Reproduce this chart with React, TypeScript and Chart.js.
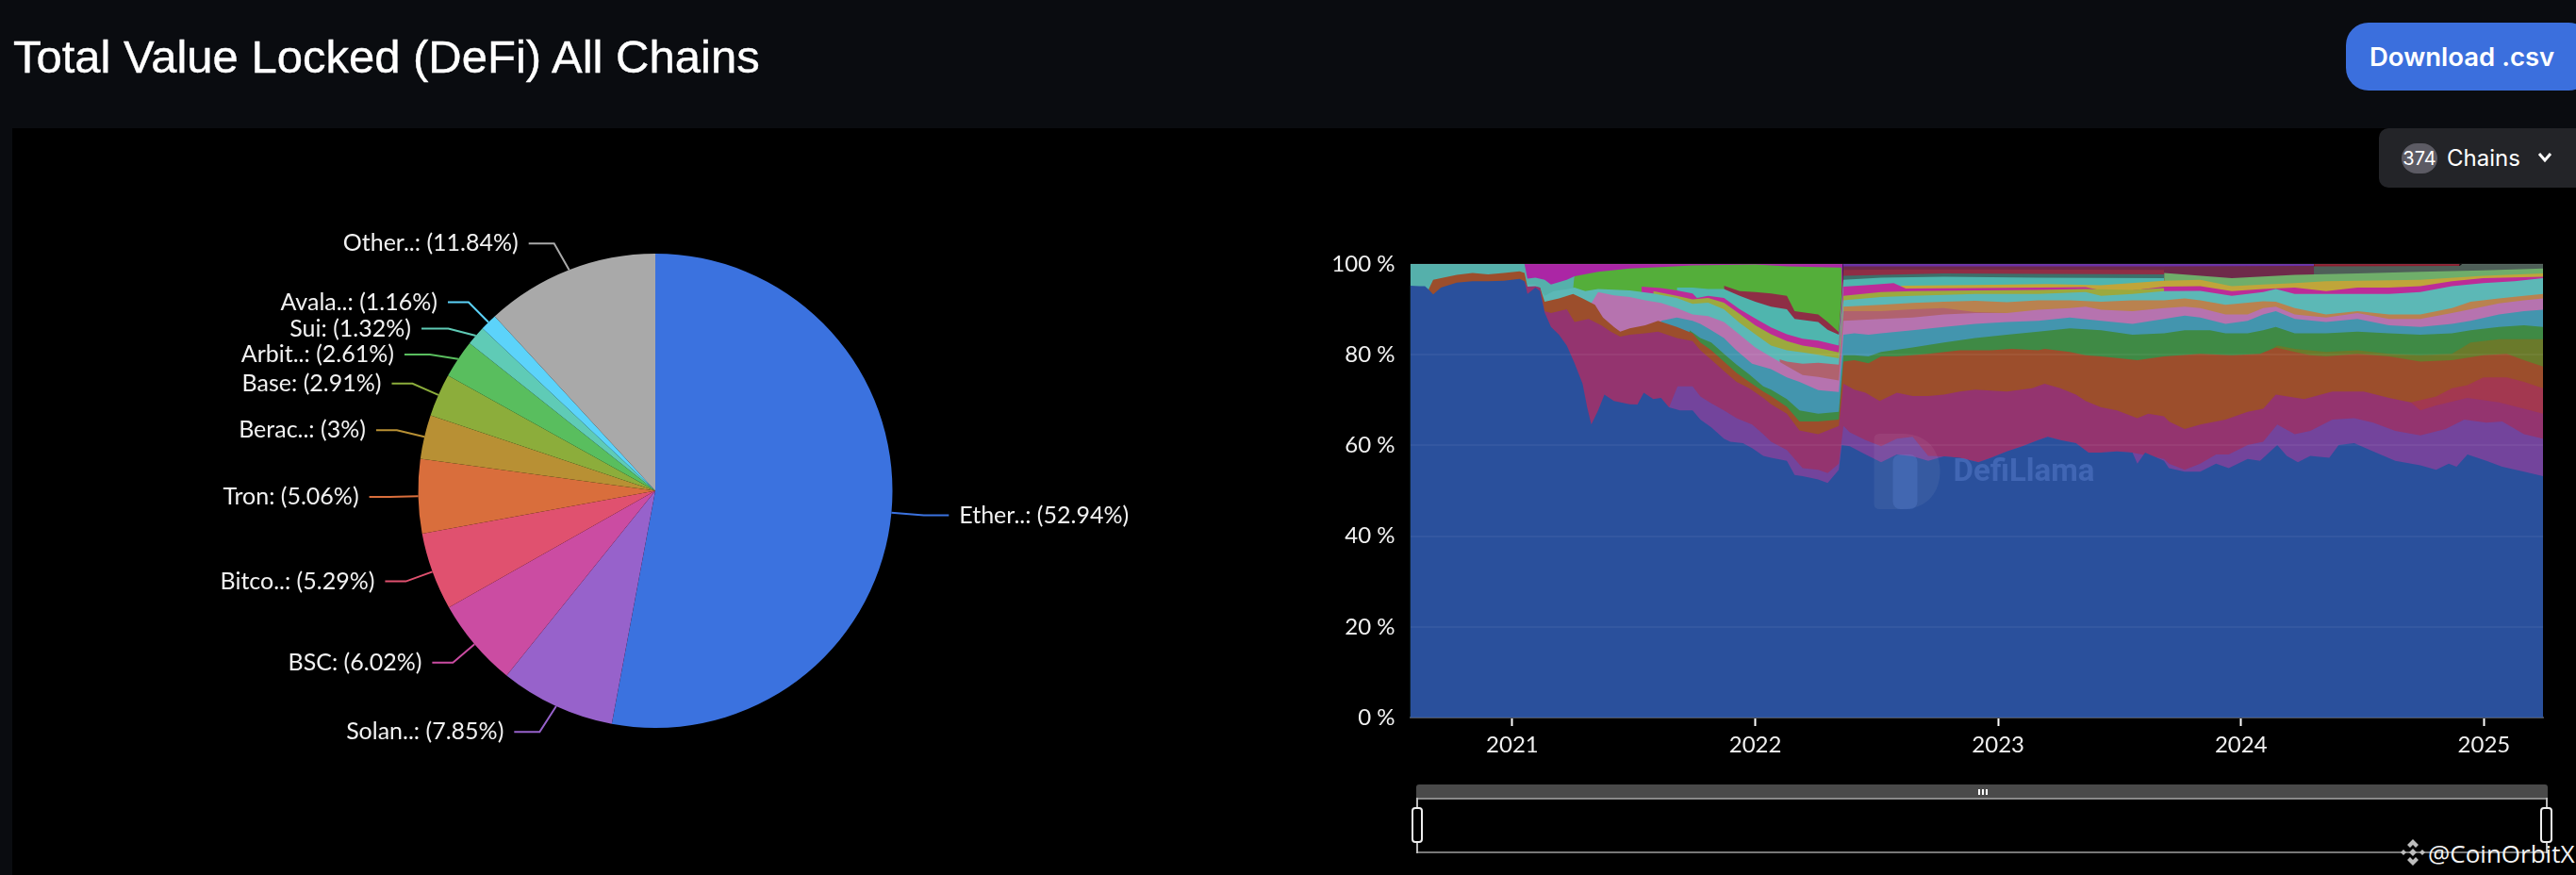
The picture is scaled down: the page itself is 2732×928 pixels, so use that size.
import React, { useEffect, useRef } from "react";
import { Chart, registerables } from "chart.js";

Chart.register(...registerables);

type P = [number, number];

/* ---------- pie ---------- */
const chainLabels = ["Ether..", "Solan..", "BSC", "Bitco..", "Tron", "Berac..", "Base", "Arbit..", "Sui", "Avala..", "Other.."];
const chainShares = [52.94, 7.85, 6.02, 5.29, 5.06, 3, 2.91, 2.61, 1.32, 1.16, 11.84];
const chainColors = ["#3B72DF", "#9762CB", "#CB4CA2", "#E0516F", "#D96E3C", "#B89034", "#8CAD3B", "#59BE5E", "#5FCBB6", "#5CD3FA", "#A9A9A9"];
const labelShifts: P[] = [[9, 0], [-10, 0], [0, 0], [0, 0], [0, 0], [0, 0], [0, 0], [-10, 12], [-13, 12], [0, 0], [-10, 0]];

/* ---------- area: the top edge (in %) of each band, [year, %] ---------- */
const ethereum: P[] = [[2020.579, 95.2], [2020.616, 95.1], [2020.64, 95.1], [2020.655, 94.4], [2020.674, 93.3], [2020.706, 94.8], [2020.771, 95.9], [2020.836, 96.2], [2020.9, 96.2], [2020.965, 96.3], [2021.03, 96.7], [2021.05, 96.2], [2021.062, 93.4], [2021.095, 94.8], [2021.114, 94], [2021.133, 89.3], [2021.159, 86.1], [2021.192, 84.4], [2021.224, 82], [2021.256, 78.1], [2021.289, 73.6], [2021.308, 68.4], [2021.325, 64.6], [2021.353, 67.7], [2021.379, 71.2], [2021.418, 69.8], [2021.483, 69.1], [2021.515, 69], [2021.541, 71.6], [2021.58, 70.2], [2021.612, 70.5], [2021.645, 68.4], [2021.69, 67.7], [2021.742, 67.7], [2021.774, 65.7], [2021.819, 64], [2021.871, 61.5], [2021.897, 60.8], [2021.949, 60.5], [2021.987, 59.4], [2022.033, 57.7], [2022.065, 57.3], [2022.13, 56.6], [2022.162, 53.5], [2022.195, 53.2], [2022.259, 52.5], [2022.298, 51.7], [2022.344, 54.6], [2022.356, 60.1], [2022.389, 59.8], [2022.454, 58], [2022.518, 56.3], [2022.583, 58], [2022.648, 57.6], [2022.712, 56.6], [2022.777, 57.6], [2022.842, 57.3], [2022.919, 56.3], [2022.971, 57.3], [2023.036, 58.7], [2023.1, 59.8], [2023.165, 61.2], [2023.204, 61.9], [2023.256, 61.2], [2023.32, 60.5], [2023.372, 58.4], [2023.424, 58.4], [2023.489, 58.7], [2023.553, 58.4], [2023.573, 56], [2023.605, 58.4], [2023.683, 56.6], [2023.703, 55], [2023.768, 54.2], [2023.832, 54.2], [2023.897, 56], [2023.949, 55], [2024.027, 57], [2024.078, 56.6], [2024.149, 60.1], [2024.188, 57.7], [2024.234, 56.3], [2024.285, 57.7], [2024.363, 57.3], [2024.402, 60.1], [2024.466, 60.5], [2024.544, 58.7], [2024.635, 56.6], [2024.738, 55.6], [2024.803, 54.6], [2024.855, 56], [2024.887, 55.3], [2024.932, 58], [2025.01, 56.6], [2025.075, 55.3], [2025.165, 54.2], [2025.243, 53.2]];
const solana: P[] = [[2021.645, 68.4], [2021.68, 73], [2021.742, 73], [2021.774, 70.8], [2021.819, 69.3], [2021.871, 67.7], [2021.923, 66], [2021.987, 64.6], [2022.033, 62.5], [2022.065, 60.8], [2022.13, 59], [2022.195, 55], [2022.259, 54.6], [2022.298, 53.9], [2022.344, 56], [2022.363, 64.3], [2022.389, 62.9], [2022.454, 61.2], [2022.518, 59.8], [2022.583, 61.5], [2022.648, 61.9], [2022.712, 57.7], [2022.777, 57.6], [2022.842, 57.3], [2022.919, 56.3], [2022.971, 57.3], [2023.036, 58.7], [2023.1, 59.8], [2023.165, 61.2], [2023.204, 61.9], [2023.256, 61.2], [2023.32, 60.5], [2023.372, 58.4], [2023.424, 58.4], [2023.489, 58.7], [2023.553, 58.4], [2023.683, 57], [2023.703, 56], [2023.768, 54.6], [2023.832, 56], [2023.897, 58], [2023.949, 58], [2024.027, 60.1], [2024.091, 60.8], [2024.149, 64.6], [2024.221, 62.5], [2024.285, 63.2], [2024.376, 65.7], [2024.466, 66], [2024.544, 65], [2024.635, 63.2], [2024.738, 62.2], [2024.842, 63.6], [2024.919, 65.7], [2025.01, 65], [2025.075, 65.3], [2025.165, 62.5], [2025.243, 61.5]];
const bsc: P[] = [[2021.05, 96.2], [2021.062, 95], [2021.095, 95.1], [2021.114, 94.8], [2021.133, 89.6], [2021.159, 89.2], [2021.224, 90], [2021.256, 87.2], [2021.314, 87.9], [2021.366, 86.5], [2021.405, 85.1], [2021.444, 84], [2021.483, 84.4], [2021.547, 84.7], [2021.6, 85.1], [2021.677, 83.7], [2021.742, 83], [2021.774, 81], [2021.819, 78.9], [2021.871, 76.4], [2021.923, 74], [2021.975, 72.6], [2022.033, 70.5], [2022.065, 69.1], [2022.13, 67], [2022.182, 63.3], [2022.259, 62.5], [2022.344, 64.3], [2022.363, 73.6], [2022.408, 72.3], [2022.454, 71.6], [2022.512, 69.8], [2022.583, 71.6], [2022.648, 70.9], [2022.712, 70.9], [2022.777, 71.2], [2022.842, 71.9], [2022.906, 72.3], [2023.036, 71.9], [2023.139, 72.6], [2023.191, 73.6], [2023.256, 72.6], [2023.32, 71.2], [2023.36, 69.8], [2023.424, 68.4], [2023.489, 67.7], [2023.573, 66], [2023.618, 67], [2023.683, 66.4], [2023.703, 65.3], [2023.768, 63.6], [2023.832, 64.6], [2023.936, 65.7], [2024.027, 67.4], [2024.091, 68.1], [2024.143, 71.2], [2024.26, 70.2], [2024.376, 71.9], [2024.505, 71.9], [2024.609, 70.5], [2024.699, 69.5], [2024.738, 67.7], [2024.803, 68.8], [2024.932, 70.5], [2025.062, 69.5], [2025.165, 68.1], [2025.243, 67]];
const bitcoin: P[] = [[2024.699, 69.5], [2024.803, 70.8], [2024.868, 72.6], [2024.932, 73.3], [2024.997, 75], [2025.094, 75], [2025.165, 74], [2025.243, 72.6]];
const tron: P[] = [[2020.655, 94.4], [2020.674, 96.5], [2020.706, 96.9], [2020.771, 97.6], [2020.836, 98], [2020.9, 97.7], [2020.965, 98], [2021.03, 98.4], [2021.05, 98], [2021.062, 95], [2021.114, 94.8], [2021.133, 91.7], [2021.192, 92.4], [2021.25, 93.4], [2021.289, 92.4], [2021.34, 91], [2021.373, 88.2], [2021.418, 86.1], [2021.444, 85.1], [2021.483, 85.8], [2021.547, 86.5], [2021.6, 87.5], [2021.677, 86.1], [2021.742, 84.7], [2021.774, 82.7], [2021.819, 81], [2021.871, 78.5], [2021.923, 76], [2021.975, 74], [2022.033, 71.9], [2022.065, 70.9], [2022.13, 68.5], [2022.182, 65.3], [2022.259, 65.3], [2022.344, 65.7], [2022.363, 78.5], [2022.408, 78.8], [2022.466, 78.1], [2022.518, 79.6], [2022.583, 79.6], [2022.712, 80.2], [2022.842, 81], [2022.971, 81], [2023.055, 81.3], [2023.165, 81], [2023.191, 81.3], [2023.295, 80.6], [2023.36, 79.9], [2023.424, 79.6], [2023.573, 78.8], [2023.683, 79.6], [2023.832, 80.2], [2023.962, 79.9], [2024.078, 80.2], [2024.143, 81.6], [2024.221, 80.6], [2024.285, 79.9], [2024.35, 79.6], [2024.479, 80.2], [2024.609, 79.6], [2024.738, 78.5], [2024.868, 78.8], [2024.997, 79.9], [2025.094, 80.2], [2025.165, 78.8], [2025.243, 77.4]];
const olive: P[] = [[2024.1, 80.2], [2024.149, 82], [2024.221, 81.3], [2024.35, 80.6], [2024.479, 81], [2024.609, 80.2], [2024.738, 79.9], [2024.868, 80.2], [2024.945, 82.7], [2025.062, 83.4], [2025.165, 83.4], [2025.243, 83.4]];
const greenBand: P[] = [[2021.729, 85.4], [2021.774, 83.7], [2021.819, 82.7], [2021.871, 80.2], [2021.923, 77.8], [2021.975, 75.7], [2022.033, 73], [2022.065, 72.3], [2022.13, 70.2], [2022.182, 67.7], [2022.259, 67], [2022.344, 67.4], [2022.363, 79.9], [2022.408, 79.9], [2022.466, 79.6], [2022.518, 80.6], [2022.648, 81.6], [2022.777, 82.7], [2022.906, 83.7], [2023.036, 84.4], [2023.165, 85.1], [2023.295, 85.8], [2023.424, 85.4], [2023.553, 84.4], [2023.683, 84.7], [2023.768, 85.4], [2023.872, 85.4], [2023.936, 84.7], [2024.027, 84.7], [2024.091, 85.4], [2024.143, 86.1], [2024.221, 84.7], [2024.35, 84.7], [2024.479, 85.1], [2024.609, 84.7], [2024.738, 84.4], [2024.868, 84.7], [2024.945, 85.4], [2025.062, 86.1], [2025.165, 86.5], [2025.243, 86.1]];
const tealBlue: P[] = [[2021.612, 87.5], [2021.677, 88.2], [2021.742, 87.5], [2021.774, 86.8], [2021.819, 85.4], [2021.871, 83.7], [2021.923, 80.9], [2021.987, 78], [2022.065, 76.8], [2022.13, 75], [2022.182, 74], [2022.259, 72.2], [2022.344, 71.8], [2022.363, 84.4], [2022.408, 84.7], [2022.466, 84.4], [2022.518, 84.7], [2022.648, 85.4], [2022.777, 86.1], [2022.906, 86.8], [2023.036, 87.2], [2023.165, 87.5], [2023.295, 88.2], [2023.424, 87.5], [2023.553, 86.8], [2023.683, 87.9], [2023.768, 88.6], [2023.832, 88.2], [2023.936, 86.8], [2024.027, 87.5], [2024.091, 88.9], [2024.143, 89.6], [2024.221, 87.9], [2024.35, 87.2], [2024.479, 87.9], [2024.609, 86.5], [2024.738, 86.1], [2024.868, 86.8], [2024.945, 87.5], [2025.062, 88.9], [2025.165, 89.6], [2025.243, 89.9]];
const pink: P[] = [[2021.321, 91], [2021.353, 93.8], [2021.418, 93.1], [2021.483, 92.7], [2021.547, 92], [2021.612, 91.4], [2021.677, 90.3], [2021.742, 88.9], [2021.806, 88.5], [2021.871, 87.2], [2021.936, 84.4], [2022, 81.6], [2022.065, 79.5], [2022.13, 77.5], [2022.195, 75.5], [2022.259, 75.1], [2022.344, 74.3], [2022.363, 87.5], [2022.518, 87.9], [2022.648, 88.2], [2022.777, 88.9], [2022.906, 89.2], [2023.036, 89.2], [2023.165, 89.9], [2023.295, 90.3], [2023.36, 90.6], [2023.424, 89.9], [2023.553, 89.6], [2023.683, 90.3], [2023.768, 90.6], [2023.832, 90.3], [2023.936, 88.9], [2024.027, 88.9], [2024.091, 90.3], [2024.143, 90.6], [2024.221, 88.9], [2024.35, 88.2], [2024.479, 89.2], [2024.609, 87.9], [2024.738, 87.9], [2024.868, 89.2], [2024.945, 90], [2025.062, 91.3], [2025.165, 92], [2025.243, 92.4]];
const rose: P[] = [[2022.1, 79], [2022.13, 78.5], [2022.195, 78], [2022.259, 78.2], [2022.344, 77.8], [2022.363, 89.6], [2022.518, 89.6], [2022.648, 90], [2022.777, 90.3], [2022.906, 89.4], [2023.036, 89.2]];
const tan: P[] = [[2022.363, 90.6], [2022.518, 91], [2022.648, 91.4], [2022.777, 91.7], [2022.906, 91.9], [2023.036, 91.6], [2023.165, 92], [2023.295, 92], [2023.424, 91.7], [2023.553, 92], [2023.683, 92], [2023.768, 92.4], [2023.832, 92], [2023.936, 91], [2024.091, 91.8], [2024.143, 91.7], [2024.221, 90.3], [2024.35, 88.9], [2024.479, 89.6], [2024.609, 88.9], [2024.738, 88.9], [2024.868, 90.3], [2024.945, 91.7], [2025.062, 92.4], [2025.165, 93], [2025.243, 93.4]];
const lightTeal: P[] = [[2021.05, 96.2], [2021.062, 95.5], [2021.095, 95.5], [2021.133, 93], [2021.17, 94], [2021.23, 94.5], [2021.256, 94.8], [2021.3, 94], [2021.353, 94.5], [2021.483, 94.2], [2021.58, 93.5], [2021.677, 92.5], [2021.742, 91.2], [2021.806, 91.5], [2021.871, 90], [2021.936, 87], [2022, 84.5], [2022.065, 82], [2022.13, 81], [2022.195, 80.5], [2022.259, 80], [2022.344, 79.2], [2022.363, 92], [2022.518, 92.7], [2022.648, 93], [2022.777, 93.2], [2022.906, 93.4], [2023.165, 93.4], [2023.36, 93.8], [2023.424, 93], [2023.553, 93.4], [2023.683, 94], [2023.832, 94.1], [2023.962, 93], [2024.091, 93.8], [2024.143, 94.5], [2024.221, 93.4], [2024.35, 93.4], [2024.609, 93.4], [2024.738, 93.8], [2024.868, 95.1], [2024.997, 95.8], [2025.126, 96.2], [2025.243, 96.9]];
const yellowGreen: P[] = [[2021.58, 94], [2021.677, 93], [2021.742, 92.2], [2021.806, 92.5], [2021.871, 91.5], [2021.936, 89], [2022, 86.5], [2022.065, 84.5], [2022.13, 83], [2022.195, 82], [2022.259, 81.5], [2022.344, 80.5], [2022.363, 93], [2022.518, 93.8], [2022.648, 94], [2022.906, 94.2], [2023.165, 94.3], [2023.36, 94.5], [2023.553, 94.3], [2023.683, 94.7]];
const hotMagenta: P[] = [[2021.532, 95], [2021.612, 94.7], [2021.677, 94.2], [2021.742, 93.5], [2021.76, 92.5], [2021.806, 93], [2021.871, 92.5], [2021.936, 90], [2022, 88], [2022.065, 86], [2022.13, 84.5], [2022.195, 83.5], [2022.259, 83.1], [2022.344, 82], [2022.363, 95], [2022.454, 95.3], [2022.57, 95.8], [2022.62, 94.6], [2022.906, 94.7], [2023.165, 94.8], [2023.36, 94.9], [2023.424, 94.2], [2023.553, 94.2], [2023.683, 95], [2023.832, 95.1], [2023.962, 94], [2024.091, 94.5], [2024.221, 94.8], [2024.35, 94], [2024.479, 94.8], [2024.609, 94.8], [2024.738, 95.1], [2024.868, 96.2], [2024.997, 96.9], [2025.243, 97.2]];
const yellowBand: P[] = [[2022.6, 95.2], [2022.906, 95.4], [2023.2, 95.6], [2023.424, 95.3], [2023.683, 96.3], [2023.832, 96.5], [2023.962, 95.1], [2024.091, 95.5], [2024.221, 95.8], [2024.35, 96.2], [2024.738, 96.5], [2024.997, 97.4], [2025.243, 97.9]];
const teal: P[] = [[2021.677, 94.8], [2021.742, 94.8], [2021.806, 94.5], [2021.871, 94.5], [2021.936, 93], [2022, 91.7], [2022.065, 90.6], [2022.13, 90], [2022.162, 87.9], [2022.259, 87.2], [2022.298, 85.5], [2022.344, 84.4], [2022.363, 96.5], [2022.518, 97], [2022.777, 97.2], [2023.165, 97], [2023.683, 96.9]];
const darkTeal: P[] = [[2022.363, 97.4], [2022.777, 97.9], [2023.165, 97.8], [2023.683, 97.7]];
const stripes: P[] = [[2021.871, 95.2], [2021.936, 94], [2022, 93.8], [2022.065, 93.5], [2022.13, 93], [2022.162, 89.6], [2022.259, 88.9], [2022.298, 87.2], [2022.344, 85], [2022.363, 98.7], [2022.6, 98.8], [2023, 98.8], [2023.683, 98.7]];
const maroon: P[] = [[2022.363, 99.5], [2023, 99.5], [2023.683, 99.5], [2024.3, 99.6]];
const greenMix: P[] = [[2023.683, 98], [2023.962, 96.9], [2024.221, 97.6], [2024.479, 97.9], [2024.738, 98.3], [2024.997, 98.6], [2025.243, 99]];
const upperMix: P[] = [[2023.683, 99.2], [2024.3, 99.5], [2024.9, 99.6], [2024.91, 100], [2025.243, 100]];
const terra: P[] = [[2021.25, 95], [2021.256, 97.3], [2021.353, 98.3], [2021.483, 99], [2021.612, 99.3], [2021.742, 99.7], [2021.871, 99.8], [2022, 99.9], [2022.13, 99.5], [2022.344, 99.2], [2022.356, 99.2]];
const earlyTeal: P[] = [[2020.579, 100], [2021.05, 100], [2021.062, 96.8], [2021.095, 97], [2021.133, 96.5], [2021.159, 95.5], [2021.224, 96.5], [2021.256, 97.3]];
const magentaTop: P[] = [[2021.05, 100], [2022.36, 100]];
const violetTop: P[] = [[2022.36, 100], [2024.3, 100]];
const crimsonTop: P[] = [[2024.3, 100], [2024.9, 100]];

const bands: [P[], string][] = [
  [ethereum, "#2A509C"], [solana, "#73449C"], [bsc, "#94346F"], [bitcoin, "#A33850"], [tron, "#9C4E2C"],
  [olive, "#6A7A2B"], [greenBand, "#3F8A45"], [tealBlue, "#4395AE"], [pink, "#B673AF"], [rose, "#B0626E"],
  [tan, "#B9824F"], [lightTeal, "#5CB8B6"], [yellowGreen, "#9CA93E"], [hotMagenta, "#BC2C98"], [yellowBand, "#C0A53A"],
  [teal, "#4FB5AE"], [darkTeal, "#3D6F6A"], [stripes, "#8E2E45"], [greenMix, "#6FAE6A"], [maroon, "#6E2A4A"], [upperMix, "#4E5F58"], [terra, "#54AE3A"],
  [earlyTeal, "#55B0AB"], [magentaTop, "#AB26A5"], [violetTop, "#6A30A6"], [crimsonTop, "#8C1F30"],
];
const yearTicks = [2021, 2022, 2023, 2024, 2025];
const xMin = 2020.579;
const xMax = 2025.243;

const AXIS_FONT = "Lato";

const pieLabelsPlugin = {
  id: "pieLabels",
  afterDatasetsDraw(chart: any) {
    const { ctx } = chart;
    const arcs = chart.getDatasetMeta(0).data;
    ctx.save();
    ctx.font = `25px ${AXIS_FONT}`;
    ctx.textBaseline = "middle";
    arcs.forEach((arc: any, i: number) => {
      const mid = (arc.startAngle + arc.endAngle) / 2;
      const c = Math.cos(mid), s = Math.sin(mid);
      const r = arc.outerRadius;
      const sx = arc.x + r * c, sy = arc.y + r * s;
      const [dx, dy] = labelShifts[i];
      const ex = arc.x + (r + 30) * c + dx * 0.5, ey = arc.y + (r + 30) * s + dy;
      const right = c >= 0;
      const hx = ex + (right ? 1 : -1) * (22 + Math.abs(dx) * 0.5);
      ctx.strokeStyle = chainColors[i];
      ctx.lineWidth = 2;
      ctx.beginPath();
      ctx.moveTo(sx, sy);
      ctx.lineTo(ex, ey);
      ctx.lineTo(hx, ey);
      ctx.stroke();
      ctx.fillStyle = "#f2f2f2";
      ctx.textAlign = right ? "left" : "right";
      ctx.fillText(`${chainLabels[i]}: (${chainShares[i]}%)`, hx + (right ? 11 : -11), ey);
    });
    ctx.restore();
  },
};

const watermarkPlugin = {
  id: "watermark",
  afterDatasetsDraw(chart: any) {
    const { ctx, chartArea } = chart;
    const x = chartArea.left + 492, y = chartArea.top + 180;
    ctx.save();
    ctx.fillStyle = "rgba(255,255,255,0.06)";
    ctx.beginPath();
    ctx.moveTo(x + 6, y);
    ctx.lineTo(x + 30, y);
    ctx.bezierCurveTo(x + 60, y, x + 70, y + 22, x + 70, y + 40);
    ctx.bezierCurveTo(x + 70, y + 60, x + 58, y + 80, x + 30, y + 80);
    ctx.lineTo(x + 6, y + 80);
    ctx.quadraticCurveTo(x, y + 80, x, y + 74);
    ctx.lineTo(x, y + 6);
    ctx.quadraticCurveTo(x, y, x + 6, y);
    ctx.fill();
    ctx.fillStyle = "rgba(110,150,235,0.22)";
    ctx.beginPath();
    ctx.roundRect(x + 20, y + 22, 26, 58, 8);
    ctx.fill();
    ctx.fillStyle = "rgba(120,155,235,0.3)";
    ctx.font = "bold 33px Roboto";
    ctx.textBaseline = "middle";
    ctx.textAlign = "left";
    ctx.fillText("DefiLlama", x + 84, y + 42);
    ctx.restore();
  },
};

function abs(left: number, top: number, width: number, height: number, extra: React.CSSProperties = {}): React.CSSProperties {
  return { position: "absolute", left, top, width, height, boxSizing: "border-box", ...extra };
}

export default function App() {
  const pieRef = useRef<HTMLCanvasElement>(null);
  const areaRef = useRef<HTMLCanvasElement>(null);

  useEffect(() => {
    const pie = new Chart(pieRef.current!, {
      type: "pie",
      data: {
        labels: chainLabels,
        datasets: [{ data: chainShares, backgroundColor: chainColors, borderWidth: 0, hoverOffset: 0 }],
      },
      options: {
        responsive: false,
        animation: false,
        layout: { padding: { left: 443.5, right: 443.5, top: 133, bottom: 156 } },
        plugins: { legend: { display: false }, tooltip: { enabled: false } },
      },
      plugins: [pieLabelsPlugin],
    } as any);

    const area = new Chart(areaRef.current!, {
      type: "line",
      data: {
        datasets: bands.map(([pts, color]) => ({
          data: pts.map(([x, y]) => ({ x, y })),
          backgroundColor: color,
          borderColor: color,
          borderWidth: 0,
          pointRadius: 0,
          fill: "origin",
          tension: 0,
        })),
      },
      options: {
        responsive: false,
        animation: false,
        layout: { padding: { top: 20, right: 35, left: 0, bottom: 0 } },
        plugins: { legend: { display: false }, tooltip: { enabled: false } },
        scales: {
          x: {
            type: "linear",
            min: xMin,
            max: xMax,
            afterFit: (s: any) => { s.height = 59; s.paddingLeft = 0; s.paddingRight = 0; },
            afterBuildTicks: (s: any) => { s.ticks = yearTicks.map((value) => ({ value })); },
            border: { color: "#44464c", width: 2 },
            grid: { drawOnChartArea: false, drawTicks: true, tickLength: 9, tickColor: "#ffffff", tickWidth: 2 },
            ticks: {
              autoSkip: false, maxRotation: 0, padding: 6, color: "#f0f0f0",
              font: { family: AXIS_FONT, size: 24 },
              callback: (v: any) => String(v),
            },
          },
          y: {
            min: 0,
            max: 100,
            afterFit: (s: any) => { s.width = 95.5; s.paddingTop = 0; s.paddingBottom = 0; },
            border: { display: false },
            grid: { color: "rgba(255,255,255,0.05)", lineWidth: 2, drawTicks: false, z: 1 },
            ticks: {
              stepSize: 20, padding: 16, color: "#f0f0f0",
              font: { family: AXIS_FONT, size: 24 },
              callback: (v: any) => `${v} %`,
            },
          },
        },
      },
      plugins: [watermarkPlugin],
    } as any);

    return () => {
      pie.destroy();
      area.destroy();
    };
  }, []);

  return (
    <div style={{ position: "fixed", left: 0, top: 0, width: 2732, height: 928, overflow: "hidden", background: "#0A0C10", fontFamily: "Inter" }}>
      <div style={abs(13, 136, 2719, 792, { background: "#000" })} />
      <div style={{ position: "absolute", left: 14, top: 30, font: "400 49px/60px 'Liberation Sans'", color: "#fff", whiteSpace: "nowrap", WebkitTextStroke: "0.4px #fff" }}>
        Total Value Locked (DeFi) All Chains
      </div>

      <div style={abs(2488, 24, 260, 72, { background: "#3B6FDD", borderRadius: 24 })} />
      <div style={{ position: "absolute", left: 2513, top: 42, font: "600 27.5px/36px Inter", color: "#fff", whiteSpace: "nowrap" }}>Download .csv</div>

      <div style={abs(2523, 136, 220, 63, { background: "#232428", borderRadius: 10 })} />
      <div style={abs(2547, 152, 38, 32, { background: "#5C5B64", borderRadius: 16, color: "#fff", font: "400 20px/32px Inter", textAlign: "center" })}>374</div>
      <div style={{ position: "absolute", left: 2595, top: 151, font: "400 24px/34px Inter", color: "#fff" }}>Chains</div>
      <svg style={{ position: "absolute", left: 2691, top: 161 }} width="16" height="12">
        <polyline points="2,2 8,9 14,2" fill="none" stroke="#fff" strokeWidth="3" />
      </svg>

      <canvas ref={pieRef} width={1390} height={792} style={{ position: "absolute", left: 0, top: 136 }} />
      <canvas ref={areaRef} width={1332} height={560} style={{ position: "absolute", left: 1400, top: 260 }} />

      {/* range slider */}
      <div style={abs(1502, 832, 1200, 14, { background: "#4A4A4A", borderRadius: "3px 3px 0 0" })} />
      <div style={abs(1503, 846, 1198, 2, { background: "#8A8A8A" })} />
      <div style={abs(1503, 903, 1198, 2, { background: "#777" })} />
      <div style={abs(1502, 846, 2, 59, { background: "#bbb" })} />
      <div style={abs(2700, 846, 2, 59, { background: "#bbb" })} />
      {[2098, 2102, 2106].map((x) => <div key={x} style={abs(x, 837, 2, 6, { background: "#fff" })} />)}
      <div style={abs(1497, 856, 12, 38, { background: "#000", border: "2px solid #eee", borderRadius: 4 })} />
      <div style={abs(2694, 856, 13, 38, { background: "#000", border: "2px solid #eee", borderRadius: 4 })} />

      {/* credit */}
      <svg style={{ position: "absolute", left: 2545, top: 889 }} width="28" height="30" viewBox="0 0 28 30">
        <g fill="#bdbdbd">
          <polygon points="14,1 20,7 17,10 14,7 11,10 8,7" />
          <polygon points="14,29 20,23 17,20 14,23 11,20 8,23" />
          <polygon points="4,12 7,15 4,18 1,15" />
          <polygon points="24,12 27,15 24,18 21,15" />
          <polygon points="14,11 18,15 14,19 10,15" />
        </g>
      </svg>
      <div style={{ position: "absolute", left: 2575, top: 889, font: "400 26px/32px 'Open Sans'", color: "#f4f4f4", whiteSpace: "nowrap" }}>@CoinOrbitX</div>
    </div>
  );
}
